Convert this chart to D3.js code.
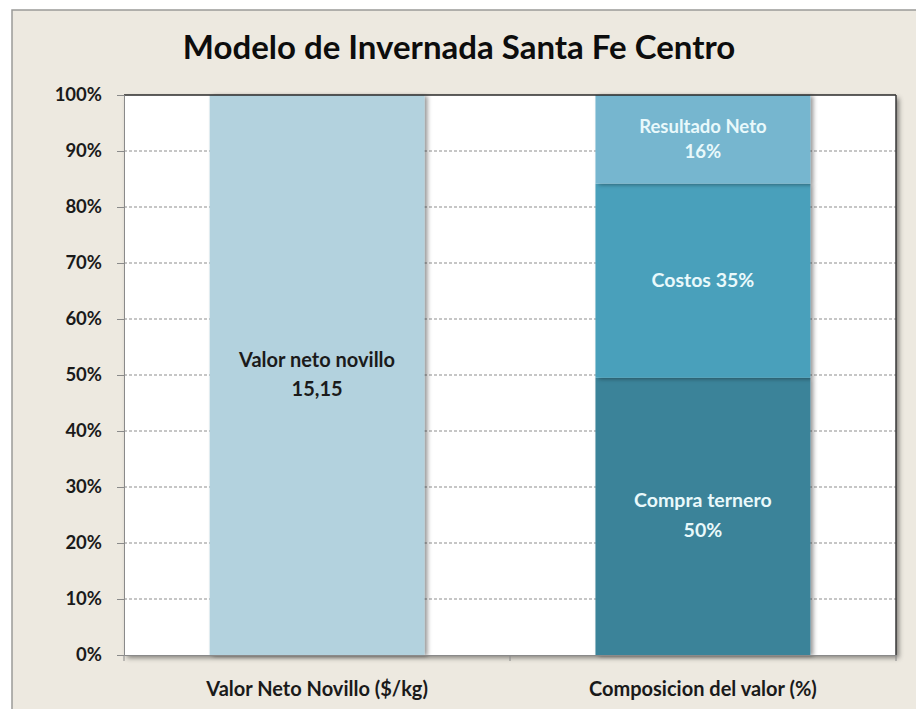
<!DOCTYPE html>
<html>
<head>
<meta charset="utf-8">
<script src="https://cdn.jsdelivr.net/npm/d3@7"></script>
<style>
  html, body { margin: 0; padding: 0; background: #ffffff; }
  svg { display: block; }
  text { font-family: Lato, "Open Sans", sans-serif; }
</style>
</head>
<body>
<svg id="chart" width="916" height="709"></svg>
<script>
// Chart content
const title = "Modelo de Invernada Santa Fe Centro";
const categories = ["Valor Neto Novillo ($/kg)", "Composicion del valor (%)"];
const seriesNames = ["Valor neto novillo", "Compra ternero", "Costos", "Resultado Neto"];
// one value per category for each series (stacked to 100%)
const valorNeto = [15.15, 0];
const compraTernero = [0, 50];
const costos = [0, 35];
const resultadoNeto = [0, 16];
const segmentLabels = [
  ["Valor neto novillo", "15,15"],
  ["Compra ternero", "50%"],
  ["Costos 35%"],
  ["Resultado Neto", "16%"]
];
const tickValues = [0, 0.1, 0.2, 0.3, 0.4, 0.5, 0.6, 0.7, 0.8, 0.9, 1];

const colors = ["#b3d2de", "#3a8399", "#48a0bb", "#76b6cf"];
const labelColors = ["#1b1b1b", "#e9f9fb", "#e9f9fb", "#e9f9fb"];
const labelSizes = [20, 19.5, 19.5, 18.5];
const lineHeights = [29, 30, 28, 25];

const W = 916, H = 709;
const margin = { left: 124, right: 20, top: 95, bottom: 54 };
const plotW = W - margin.left - margin.right;   // 772
const plotH = H - margin.top - margin.bottom;   // 560

const svg = d3.select("#chart");

// drop shadows
const defs = svg.append("defs");
const sh = defs.append("filter").attr("id", "shadow")
  .attr("x", "-10%").attr("y", "-10%").attr("width", "130%").attr("height", "130%");
sh.append("feDropShadow").attr("dx", 3).attr("dy", 3).attr("stdDeviation", 2.5)
  .attr("flood-color", "#000").attr("flood-opacity", 0.45);
const shBar = defs.append("filter").attr("id", "barShadow")
  .attr("x", "-10%").attr("y", "-5%").attr("width", "130%").attr("height", "115%");
shBar.append("feDropShadow").attr("dx", 3).attr("dy", 1).attr("stdDeviation", 2)
  .attr("flood-color", "#000").attr("flood-opacity", 0.4);

// chart frame
svg.append("rect").attr("x", 12).attr("y", 10).attr("width", W - 12 + 2).attr("height", H - 10 + 2)
  .attr("fill", "#ede9e0").attr("stroke", "#9a9a98").attr("stroke-width", 1.5);

// title
svg.append("text")
  .attr("x", 459).attr("y", 59)
  .attr("text-anchor", "middle")
  .attr("font-size", 33).attr("font-weight", "bold").attr("fill", "#0d0d0d")
  .text(title);

const g = svg.append("g").attr("transform", `translate(${margin.left},${margin.top})`);

// plot area
g.append("rect").attr("width", plotW).attr("height", plotH)
  .attr("fill", "#ffffff").attr("filter", "url(#shadow)");

const x = d3.scaleBand().domain(categories).range([0, plotW]).paddingInner(0.443).paddingOuter(0.222);
const y = d3.scaleLinear().domain([0, 1]).range([plotH, 0]);

// gridlines
g.append("g").selectAll("line").data(tickValues.filter(t => t > 0 && t < 1)).join("line")
  .attr("x1", 0).attr("x2", plotW)
  .attr("y1", d => y(d)).attr("y2", d => y(d))
  .attr("stroke", "#8d8d8d").attr("stroke-width", 1).attr("stroke-dasharray", "3,2");

// stacked (normalized) data
const table = categories.map((c, i) => ({
  cat: c,
  s0: valorNeto[i], s1: compraTernero[i], s2: costos[i], s3: resultadoNeto[i]
}));
const stack = d3.stack().keys(["s0", "s1", "s2", "s3"]).offset(d3.stackOffsetExpand);
const layers = stack(table);

const barG = g.append("g");
layers.forEach((layer, li) => {
  layer.forEach(seg => {
    if (seg[1] - seg[0] <= 0) return;
    barG.append("rect")
      .attr("x", x(seg.data.cat))
      .attr("y", y(seg[1]))
      .attr("width", x.bandwidth())
      .attr("height", y(seg[0]) - y(seg[1]))
      .attr("fill", colors[li])
      .attr("filter", "url(#barShadow)");
  });
});
// labels
layers.forEach((layer, li) => {
  layer.forEach(seg => {
    if (seg[1] - seg[0] <= 0) return;
    const cx = x(seg.data.cat) + x.bandwidth() / 2;
    const cy = (y(seg[0]) + y(seg[1])) / 2;
    const lines = segmentLabels[li];
    const lh = lineHeights[li];
    const t = barG.append("text")
      .attr("text-anchor", "middle")
      .attr("font-size", labelSizes[li]).attr("font-weight", "bold")
      .attr("fill", labelColors[li]);
    lines.forEach((ln, k) => {
      t.append("tspan").attr("x", cx)
        .attr("y", cy + (k - (lines.length - 1) / 2) * lh + 6)
        .text(ln);
    });
  });
});

// plot borders
g.append("line").attr("x1", 0).attr("x2", plotW).attr("y1", 0).attr("y2", 0)
  .attr("stroke", "#2a2a2a").attr("stroke-width", 1.5);
g.append("line").attr("x1", plotW).attr("x2", plotW).attr("y1", 0).attr("y2", plotH)
  .attr("stroke", "#3a3a3a").attr("stroke-width", 1.5);

// y axis
const yAxis = g.append("g")
  .call(d3.axisLeft(y).tickValues(tickValues).tickFormat(d3.format(".0%")).tickSize(7).tickPadding(15));
yAxis.select(".domain").attr("stroke", "#8a8a8a");
yAxis.selectAll(".tick line").attr("stroke", "#8a8a8a");
yAxis.selectAll("text").attr("font-size", 18.5).attr("font-weight", "bold").attr("fill", "#1a1a1a")
  .attr("font-family", "Lato, 'Open Sans', sans-serif");

// x axis
const xAxis = g.append("g").attr("transform", `translate(0,${plotH})`)
  .call(d3.axisBottom(x).tickSize(0).tickPadding(27));
xAxis.select(".domain").attr("stroke", "#8a8a8a");
xAxis.selectAll("text").attr("font-size", 20).attr("font-weight", "bold").attr("fill", "#1a1a1a")
  .attr("font-family", "Lato, 'Open Sans', sans-serif");
// category boundary ticks
g.append("g").selectAll("line").data([0, plotW / 2, plotW]).join("line")
  .attr("x1", d => d).attr("x2", d => d)
  .attr("y1", plotH).attr("y2", plotH + 6)
  .attr("stroke", "#8a8a8a");
</script>
</body>
</html>
